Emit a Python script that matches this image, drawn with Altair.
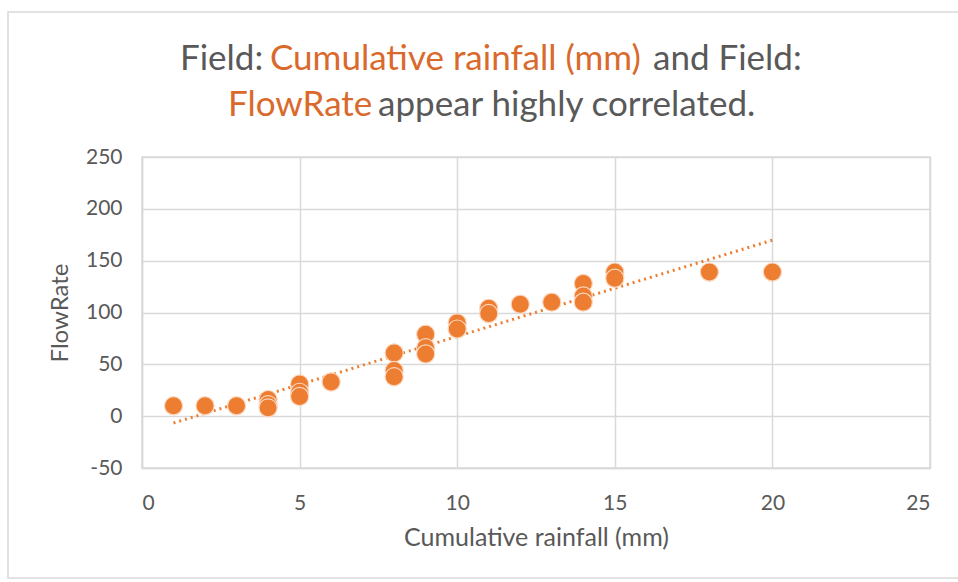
import altair as alt
import pandas as pd

# Data
rainfall = [1, 2, 3, 4, 4, 4, 5, 5, 5, 6, 8, 8, 8, 9, 9, 9, 10, 10, 11, 11, 12, 13, 14, 14, 14, 15, 15, 18, 20]
flowrate = [10, 10, 10, 16, 11, 8, 31, 23, 19, 33, 61, 44, 38, 79, 66, 60, 90, 84, 104, 99, 108, 110, 128, 116, 110, 139, 133, 139, 139]

x_ticks = [0, 5, 10, 15, 20, 25]
y_ticks = [-50, 0, 50, 100, 150, 200, 250]

title_line1 = [("Field:", "gray"), ("Cumulative rainfall (mm)", "orange"), ("and Field:", "gray")]
title_line2 = [("FlowRate", "orange"), ("appear highly correlated.", "gray")]

ORANGE = "#ED7D31"
TITLE_ORANGE = "#DA6A2C"
GRAY = "#595959"
GRID = "#D9D9D9"
FONT = "Lato"

df = pd.DataFrame({"Cumulative rainfall (mm)": rainfall, "FlowRate": flowrate})

xscale = alt.Scale(domain=[0, 25], nice=False, zero=False)
yscale = alt.Scale(domain=[-50, 250], nice=False, zero=False)

label_expr = "datum.value < 0 ? '-' + abs(datum.value) : '' + datum.value"

xenc = alt.X(
    "Cumulative rainfall (mm):Q",
    scale=xscale,
    axis=alt.Axis(values=x_ticks, title="Cumulative rainfall (mm)", ticks=False,
                  labelExpr=label_expr,
                  labelPadding=24, titlePadding=12, labelFontSize=21, titleFontSize=25),
)
yenc = alt.Y(
    "FlowRate:Q",
    scale=yscale,
    axis=alt.Axis(values=y_ticks, title="FlowRate", ticks=False,
                  labelExpr=label_expr,
                  labelPadding=20, titlePadding=13, labelFontSize=21, titleFontSize=24),
)

base = alt.Chart(df)

trend = base.transform_regression(
    "Cumulative rainfall (mm)", "FlowRate", extent=[1, 20]
).mark_line(color=ORANGE, strokeWidth=3, strokeDash=[2, 4]).encode(x=xenc, y=yenc)

points = base.mark_point(
    filled=True, size=330, color=ORANGE, opacity=1, stroke="#FAD7BF", strokeWidth=1.2
).encode(x=xenc, y=yenc)

# Outer chart border
border = alt.Chart(pd.DataFrame({"a": [0]})).mark_rect(
    fill=None, stroke=GRID, strokeWidth=1.5
).encode(x=alt.value(-134), x2=alt.value(830), y=alt.value(-145), y2=alt.value(421))

# Mixed-colour title built from text segments
title_layers = []
line1_x = [38, 128, 511]
line2_x = [86, 236]
for (seg, col), xx in zip(title_line1, line1_x):
    title_layers.append(
        alt.Chart(pd.DataFrame({"t": [seg]})).mark_text(
            align="left", baseline="alphabetic", font=FONT, fontSize=35,
            color=TITLE_ORANGE if col == "orange" else GRAY,
        ).encode(text="t:N", x=alt.value(xx), y=alt.value(-87))
    )
for (seg, col), xx in zip(title_line2, line2_x):
    title_layers.append(
        alt.Chart(pd.DataFrame({"t": [seg]})).mark_text(
            align="left", baseline="alphabetic", font=FONT, fontSize=35,
            color=TITLE_ORANGE if col == "orange" else GRAY,
        ).encode(text="t:N", x=alt.value(xx), y=alt.value(-41))
    )

chart = alt.layer(border, trend, points, *title_layers).properties(
    width=788,
    height=311,
    autosize=alt.AutoSizeParams(type="none"),
    padding={"left": 142, "top": 157, "right": 28, "bottom": 114},
    background="white",
).configure_view(
    stroke=GRID, strokeWidth=1.5
).configure_axis(
    grid=True, gridColor=GRID, gridWidth=1.5, domainColor=GRID, domainWidth=1.5,
    labelColor=GRAY, titleColor=GRAY, labelFont=FONT, titleFont=FONT,
    titleFontWeight="normal",
)

chart.save("out.html", embed_options={"renderer": "svg", "actions": False})
